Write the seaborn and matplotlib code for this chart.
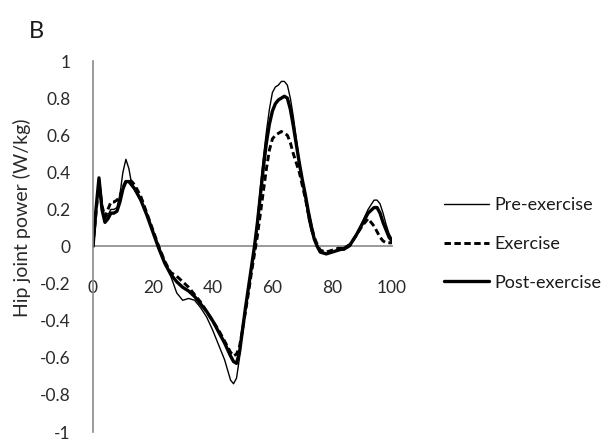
import numpy as np
import pandas as pd
import matplotlib
matplotlib.use("Agg")
import matplotlib.pyplot as plt
import seaborn as sns

# ======================================
# Data
# ======================================

gait_cycle = [0, 1, 2, 3, 4, 5, 6, 7, 8, 9, 10, 11, 12, 13, 14, 16, 18, 20, 22, 24,
              26, 28, 30, 32, 34, 36, 38, 40, 42, 44, 46, 47, 48, 49, 50, 51, 52, 53,
              54, 55, 56, 57, 58, 59, 60, 61, 62, 63, 64, 65, 66, 67, 68, 69, 70, 71,
              72, 73, 74, 75, 76, 78, 80, 82, 84, 86, 88, 90, 92, 94, 95, 96, 97, 98,
              99, 100]

pre_exercise = [0.00, 0.20, 0.37, 0.22, 0.15, 0.17, 0.20, 0.20, 0.21, 0.28, 0.40, 0.47,
                0.42, 0.33, 0.30, 0.25, 0.17, 0.08, 0.00, -0.08, -0.16, -0.25, -0.29,
                -0.28, -0.29, -0.33, -0.38, -0.45, -0.53, -0.61, -0.72, -0.74, -0.71,
                -0.60, -0.45, -0.33, -0.22, -0.10, 0.00, 0.15, 0.32, 0.48, 0.62, 0.74,
                0.83, 0.86, 0.87, 0.89, 0.89, 0.87, 0.80, 0.70, 0.58, 0.46, 0.36, 0.26,
                0.15, 0.08, 0.04, 0.01, -0.02, -0.04, -0.03, -0.02, -0.02, 0.00, 0.06,
                0.13, 0.20, 0.25, 0.25, 0.23, 0.18, 0.12, 0.07, 0.04]

exercise = [0.00, 0.18, 0.35, 0.22, 0.16, 0.20, 0.24, 0.24, 0.25, 0.27, 0.32, 0.35,
            0.36, 0.35, 0.33, 0.27, 0.18, 0.09, 0.00, -0.08, -0.14, -0.16, -0.19,
            -0.22, -0.26, -0.30, -0.35, -0.40, -0.45, -0.51, -0.57, -0.59, -0.58,
            -0.54, -0.45, -0.35, -0.25, -0.14, -0.04, 0.06, 0.18, 0.30, 0.42, 0.52,
            0.58, 0.60, 0.61, 0.62, 0.61, 0.60, 0.56, 0.50, 0.45, 0.40, 0.33, 0.26,
            0.18, 0.11, 0.05, 0.01, -0.02, -0.03, -0.02, -0.01, -0.01, 0.01, 0.06,
            0.11, 0.15, 0.11, 0.08, 0.05, 0.03, 0.02, 0.02, 0.02]

post_exercise = [0.00, 0.20, 0.37, 0.20, 0.13, 0.15, 0.18, 0.18, 0.19, 0.24, 0.31, 0.35,
                 0.35, 0.33, 0.31, 0.25, 0.17, 0.08, -0.01, -0.09, -0.15, -0.19, -0.22,
                 -0.24, -0.27, -0.31, -0.35, -0.40, -0.46, -0.52, -0.59, -0.62, -0.63,
                 -0.57, -0.45, -0.33, -0.22, -0.11, 0.00, 0.13, 0.28, 0.43, 0.56, 0.66,
                 0.73, 0.77, 0.79, 0.80, 0.81, 0.80, 0.74, 0.65, 0.55, 0.45, 0.36, 0.28,
                 0.19, 0.11, 0.04, 0.00, -0.03, -0.04, -0.03, -0.02, -0.01, 0.01, 0.06,
                 0.12, 0.18, 0.21, 0.21, 0.18, 0.13, 0.09, 0.05, 0.03]

x_ticks = [0, 20, 40, 60, 80, 100]
y_ticks = [-1, -0.8, -0.6, -0.4, -0.2, 0, 0.2, 0.4, 0.6, 0.8, 1]
y_tick_labels = ["-1", "-0.8", "-0.6", "-0.4", "-0.2", "0", "0.2", "0.4", "0.6", "0.8", "1"]

# ======================================
# Plot
# ======================================

sns.set_style("white")
plt.rcParams['font.family'] = ['Lato', 'DejaVu Sans']

fig = plt.figure(figsize=(6.06, 4.40), dpi=100)
ax = fig.add_axes([93 / 606, 8 / 440, 299 / 606, 371 / 440])

sns.lineplot(x=gait_cycle, y=pre_exercise, ax=ax, color='black', linewidth=1.0,
             label='Pre-exercise', sort=False)
sns.lineplot(x=gait_cycle, y=exercise, ax=ax, color='black', linewidth=2.1,
             linestyle=(0, (2.2, 1.2)), label='Exercise', sort=False)
sns.lineplot(x=gait_cycle, y=post_exercise, ax=ax, color='black', linewidth=2.4,
             label='Post-exercise', sort=False)

ax.set_xlim(0, 100)
ax.set_ylim(-1, 1)

# Excel-like axes: y axis on the left, x axis crossing at zero
for side in ['top', 'right']:
    ax.spines[side].set_visible(False)
ax.spines['bottom'].set_position(('data', 0))
ax.spines['bottom'].set_color('#9a9a9a')
ax.spines['bottom'].set_linewidth(1.4)
ax.spines['left'].set_color('#8a8a8a')
ax.spines['left'].set_linewidth(1.2)
ax.spines['bottom'].set_zorder(0)

ax.set_xticks(x_ticks)
ax.set_xticklabels([str(t) for t in x_ticks])
ax.set_yticks(y_ticks)
ax.set_yticklabels(y_tick_labels)
ax.tick_params(axis='x', direction='out', length=5, width=1.2, color='#8a8a8a',
               pad=19, labelsize=12.5, labelcolor='#2a2a2a')
ax.tick_params(axis='y', direction='out', length=5, width=1.2, color='#8a8a8a',
               pad=11, labelsize=12.5, labelcolor='#2a2a2a')

ax.set_ylabel('Hip joint power (W/kg)', fontsize=14, color='#2a2a2a')
ax.yaxis.set_label_coords(-0.207, 0.577)
ax.set_xlabel('')

ax.get_legend().remove()
fig.legend(loc='center left', bbox_to_anchor=(428 / 606, 1 - 244 / 440),
           frameon=False, fontsize=13, handlelength=2.5, handletextpad=0.3,
           labelspacing=1.25, labelcolor='#1a1a1a')

fig.text(36 / 606, 1 - 31 / 440, 'B', fontsize=17, ha='center', va='center',
         color='#1a1a1a')

fig.savefig('out.png', dpi=100)
